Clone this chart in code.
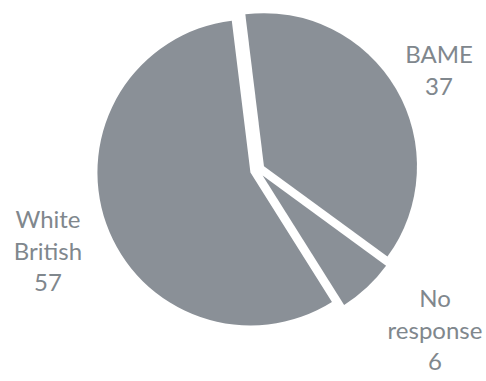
<!DOCTYPE html>
<html>
<head>
<meta charset="utf-8">
<script src="https://cdn.jsdelivr.net/npm/d3@7"></script>
<style>
  body { margin: 0; background: #fff; }
  .canvas svg { display: block; }
</style>
</head>
<body>
<div class="canvas"></div>
<script>
// data
const categories = ["BAME", "No response", "White British"];
const values = [37, 6, 57];
const labelLines = [["BAME", "37"], ["No", "response", "6"], ["White", "British", "57"]];

const dims = { w: 486, h: 381, r: 153 };
const cent = { x: 257.5, y: 170 };
const explode = 7.5;
const startDeg = -7;

// where each label block sits (centre x, first baseline y)
const labelPos = [
  { x: 439, y: 63 },
  { x: 435, y: 307 },
  { x: 48, y: 228 }
];

const data = categories.map((c, i) => ({ name: c, value: values[i], lines: labelLines[i], pos: labelPos[i] }));

const svg = d3
  .select(".canvas")
  .append("svg")
  .attr("width", dims.w)
  .attr("height", dims.h);

const graph = svg
  .append("g")
  .attr("transform", `translate(${cent.x}, ${cent.y})`);

const start = (startDeg * Math.PI) / 180;
const pie = d3
  .pie()
  .sort(null)
  .value(d => d.value)
  .startAngle(start)
  .endAngle(start + 2 * Math.PI);

const arcPath = d3
  .arc()
  .outerRadius(dims.r)
  .innerRadius(0);

graph
  .selectAll("path")
  .data(pie(data))
  .enter()
  .append("path")
  .attr("fill", "#8a9097")
  .attr("transform", d => {
    const a = (d.startAngle + d.endAngle) / 2;
    return `translate(${explode * Math.sin(a)}, ${-explode * Math.cos(a)})`;
  })
  .attr("d", arcPath);

const labels = svg
  .selectAll("text.label")
  .data(data)
  .enter()
  .append("text")
  .attr("class", "label")
  .attr("text-anchor", "middle")
  .attr("font-family", "Lato, 'Open Sans', sans-serif")
  .attr("font-size", 24)
  .attr("fill", "#80878d");

labels
  .selectAll("tspan")
  .data(d => d.lines.map((l, i) => ({ text: l, x: d.pos.x, y: d.pos.y + i * 31.5 })))
  .enter()
  .append("tspan")
  .attr("x", d => d.x)
  .attr("y", d => d.y)
  .text(d => d.text);
</script>
</body>
</html>
